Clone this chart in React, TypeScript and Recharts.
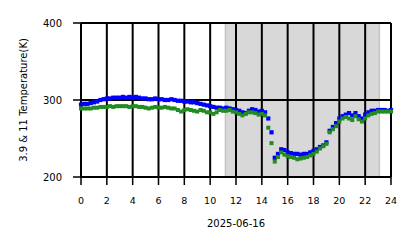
import React from "react";
import {
  ScatterChart,
  Scatter,
  XAxis,
  YAxis,
  ReferenceArea,
  ReferenceLine,
} from "recharts";

// sampling interval of the two brightness temperature series (hours)
const STEP_HOURS = 0.25;

// 3.9 um channel (K), one value every 15 min from 00:00 to 24:00
const BT39 = [
  294, 295, 295, 296, 297, 298, 300, 301, 302, 302, 303, 303, 303, 304, 303, 304,
  303, 304, 303, 302, 302, 301, 301, 302, 301, 301, 300, 300, 301, 300, 299, 299,
  298, 298, 297, 297, 296, 295, 294, 293, 292, 291, 290, 290, 289, 290, 289, 288,
  287, 286, 284, 283, 286, 288, 287, 285, 286, 284, 276, 258, 225, 230, 236, 235,
  232, 231, 230, 230, 229, 230, 230, 232, 234, 236, 239, 241, 245, 260, 265, 270,
  276, 279, 281, 283, 280, 283, 279, 276, 281, 284, 286, 286, 287, 287, 287, 286,
  287,
];

// 11 um channel (K)
const BT11 = [
  289, 289, 289, 289, 290, 290, 291, 291, 291, 292, 291, 292, 292, 292, 292, 291,
  292, 292, 291, 291, 290, 289, 290, 291, 290, 290, 291, 290, 289, 289, 287, 285,
  287, 288, 287, 286, 285, 287, 286, 284, 284, 282, 284, 287, 286, 286, 287, 285,
  284, 282, 280, 282, 284, 284, 283, 281, 282, 280, 264, 244, 220, 226, 232, 229,
  227, 226, 225, 223, 224, 225, 226, 228, 230, 233, 237, 240, 243, 258, 262, 266,
  272, 276, 278, 276, 274, 279, 275, 272, 276, 280, 282, 283, 285, 285, 285, 285,
  285,
];

const X_TICKS = [0, 2, 4, 6, 8, 10, 12, 14, 16, 18, 20, 22, 24];
const Y_TICKS = [200, 300, 400];

// shaded period (hours)
const SHADE = [11.18, 23.1];

const blueData = BT39.map((v, i) => ({ hour: i * STEP_HOURS, temp: v }));
const greenData = BT11.map((v, i) => ({ hour: i * STEP_HOURS, temp: v }));

const FONT = "DejaVu Sans";

const square = (color: string, s: number) => (props: any) => (
  <rect
    x={props.cx - s / 2}
    y={props.cy - s / 2}
    width={s}
    height={s}
    fill={color}
  />
);

export default function App() {
  return (
    <div style={{ position: "absolute", left: 0, top: 0, background: "#fff" }}>
      <ScatterChart
        width={418}
        height={248}
        margin={{ top: 23, right: 27, bottom: 0, left: 0 }}
      >
        <XAxis
          dataKey="hour"
          type="number"
          domain={[0, 24]}
          ticks={X_TICKS}
          interval={0}
          height={71}
          axisLine={false}
          tickSize={8}
          tickMargin={12}
          tickLine={{ stroke: "#000", strokeWidth: 1.5 }}
          tick={{ fill: "#000", fontSize: 9.5, fontFamily: FONT }}
          label={{
            value: "2025-06-16",
            position: "insideBottom",
            offset: 21,
            fill: "#000",
            fontSize: 10,
            fontFamily: FONT,
          }}
        />
        <YAxis
          dataKey="temp"
          type="number"
          domain={[200, 400]}
          ticks={Y_TICKS}
          interval={0}
          width={81}
          axisLine={false}
          tickSize={8}
          tickMargin={11}
          tickLine={{ stroke: "#000", strokeWidth: 1.5 }}
          tick={{ fill: "#000", fontSize: 10, fontFamily: FONT }}
          label={{
            value: "3.9 & 11 Temperature(K)",
            angle: -90,
            position: "insideLeft",
            offset: 23,
            fill: "#000",
            fontSize: 10,
            fontFamily: FONT,
            style: { textAnchor: "middle" },
          }}
        />
        <ReferenceArea
          x1={SHADE[0]}
          x2={SHADE[1]}
          y1={200}
          y2={400}
          fill="#d8d8d8"
          fillOpacity={1}
          stroke="#c4c4c4"
          strokeWidth={1.5}
        />
        <Scatter
          data={blueData}
          shape={square("#0000ff", 4.2)}
          isAnimationActive={false}
        />
        <Scatter
          data={greenData}
          shape={square("#228b22", 4)}
          isAnimationActive={false}
        />
        {X_TICKS.map((t) => (
          <ReferenceLine key={"x" + t} x={t} stroke="#000" strokeWidth={2} />
        ))}
        {Y_TICKS.map((t) => (
          <ReferenceLine key={"y" + t} y={t} stroke="#000" strokeWidth={2} />
        ))}
      </ScatterChart>
    </div>
  );
}
